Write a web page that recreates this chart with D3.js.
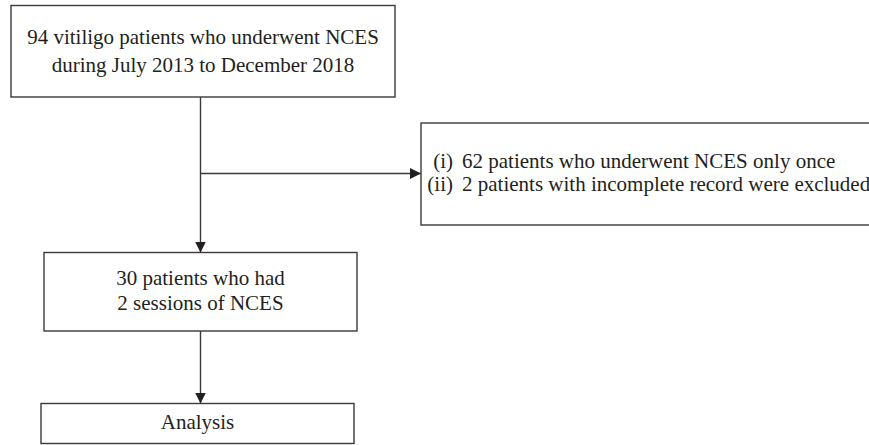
<!DOCTYPE html>
<html>
<head>
<meta charset="utf-8">
<script src="https://cdn.jsdelivr.net/npm/d3@7"></script>
<style>
  body { margin: 0; background: #fff; }
  svg text { font-family: "Liberation Serif", "DejaVu Serif", serif; fill: #231f20; }
</style>
</head>
<body>
<div id="main"></div>
<script>
// flow steps, top to bottom
var steps = ['source', 'cohort', 'analysis'];
var stepLines = [
  ['94 vitiligo patients who underwent NCES', 'during July 2013 to December 2018'],
  ['30 patients who had', '2 sessions of NCES'],
  ['Analysis']
];
// exclusion box
var exclusionMarks = ['(i)', '(ii)'];
var exclusionLines = ['62 patients who underwent NCES only once', '2 patients with incomplete record were excluded'];

var W = 869, H = 445;
var svg = d3.select('#main').append('svg').attr('width', W).attr('height', H);

var defs = svg.append('defs');
defs.append('marker')
    .attr('id', 'arrow')
    .attr('viewBox', '0 0 10 10')
    .attr('refX', 10).attr('refY', 5)
    .attr('markerWidth', 11).attr('markerHeight', 11)
    .attr('markerUnits', 'userSpaceOnUse')
    .attr('orient', 'auto')
  .append('path').attr('d', 'M0,0L10,5L0,10Z').attr('fill', '#231f20');

// box geometry per step (layout only)
var boxes = [
  {x: 11, y: 5.5, w: 384, h: 91.5, lh: 27.5, shift: 0},
  {x: 44, y: 252.5, w: 313, h: 78.5, lh: 25, shift: -1},
  {x: 41, y: 403.5, w: 313, h: 40, lh: 0, shift: -1}
];
var fs = 21;
var cx = 200.5;
var stroke = '#3a3a3a';

var g = svg.selectAll('g.step').data(steps).enter().append('g').attr('class', 'step');

g.append('rect')
    .attr('x', function(d, i) { return boxes[i].x; })
    .attr('y', function(d, i) { return boxes[i].y; })
    .attr('width', function(d, i) { return boxes[i].w; })
    .attr('height', function(d, i) { return boxes[i].h; })
    .attr('fill', 'none').attr('stroke', stroke).attr('stroke-width', 1.4);

g.each(function(d, i) {
  var b = boxes[i], lines = stepLines[i];
  var mid = b.y + b.h / 2 + b.shift;
  d3.select(this).selectAll('text').data(lines).enter().append('text')
      .attr('x', b.x + b.w / 2)
      .attr('y', function(t, j) { return mid + (j - (lines.length - 1) / 2) * b.lh; })
      .attr('dy', '0.33em')
      .attr('text-anchor', 'middle')
      .style('font-size', fs + 'px')
      .text(function(t) { return t; });
});

// connectors
var conn = [
  [boxes[0].y + boxes[0].h, boxes[1].y],
  [boxes[1].y + boxes[1].h, boxes[2].y]
];
svg.selectAll('line.conn').data(conn).enter().append('line')
    .attr('class', 'conn')
    .attr('x1', cx).attr('x2', cx)
    .attr('y1', function(d) { return d[0]; })
    .attr('y2', function(d) { return d[1]; })
    .attr('stroke', stroke).attr('stroke-width', 1.4)
    .attr('marker-end', 'url(#arrow)');

// exclusion branch
var ex = {x: 421, y: 123, w: 460, h: 102};
var branchY = 173.5;
svg.append('line')
    .attr('x1', cx).attr('x2', ex.x)
    .attr('y1', branchY).attr('y2', branchY)
    .attr('stroke', stroke).attr('stroke-width', 1.4)
    .attr('marker-end', 'url(#arrow)');

svg.append('rect')
    .attr('x', ex.x).attr('y', ex.y).attr('width', ex.w).attr('height', ex.h)
    .attr('fill', 'none').attr('stroke', stroke).attr('stroke-width', 1.4);

var exY = d3.scalePoint().domain(exclusionLines).range([161.5, 184]);
var exG = svg.append('g');
exG.selectAll('text.mark').data(exclusionMarks).enter().append('text')
    .attr('class', 'mark')
    .attr('x', 453)
    .attr('y', function(d, i) { return exY(exclusionLines[i]); })
    .attr('dy', '0.33em')
    .attr('text-anchor', 'end')
    .style('font-size', fs + 'px')
    .text(function(d) { return d; });
exG.selectAll('text.line').data(exclusionLines).enter().append('text')
    .attr('class', 'line')
    .attr('x', 462)
    .attr('y', function(d) { return exY(d); })
    .attr('dy', '0.33em')
    .style('font-size', fs + 'px')
    .text(function(d) { return d; });
</script>
</body>
</html>
